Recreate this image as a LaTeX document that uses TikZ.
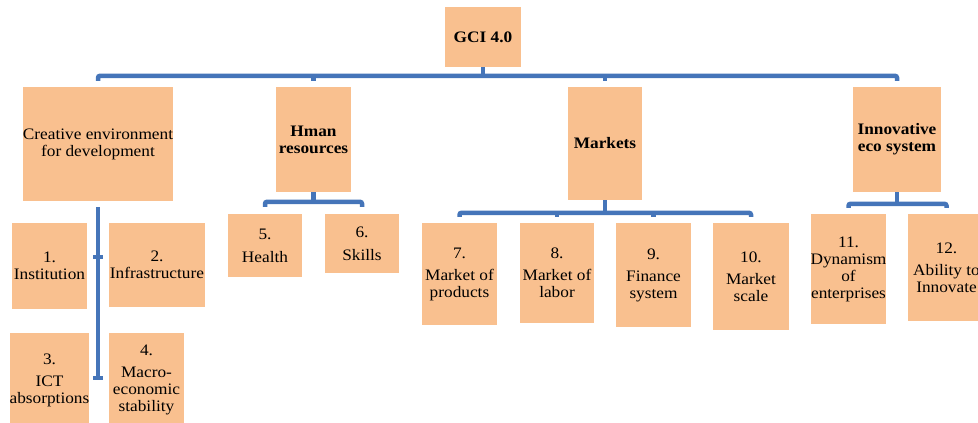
\documentclass[tikz,border=0pt]{standalone}
\usepackage{fontspec}
\setmainfont[FakeStretch=1.08]{Liberation Serif}
\usetikzlibrary{calc}
\definecolor{peach}{HTML}{F9C08F}
\definecolor{linkblue}{HTML}{4575B9}
\begin{document}
\begin{tikzpicture}[x=1pt,y=-1pt,
  box/.style={fill=peach, inner sep=0pt, align=center, font=\fontsize{16}{17}\selectfont},
  hbox/.style={box, font=\fontsize{16}{17}\selectfont\bfseries},
  conn/.style={draw=linkblue, line width=4.5pt, rounded corners=2pt}]
\useasboundingbox (0,0) rectangle (978,423);

% level 0
\node[hbox, minimum width=76pt, minimum height=60pt] (gci) at (483,37) {GCI 4.0};

% level 1
\node[box,  minimum width=148pt, minimum height=114pt] (creative) at (98,144) {Creative environment\\for development};
\node[hbox, minimum width=75pt,  minimum height=105pt] (hman) at (313.5,139.5) {Hman\\resources};
\node[hbox, minimum width=74pt,  minimum height=113pt] (markets) at (605,143.5) {Markets};
\node[hbox, minimum width=88pt,  minimum height=105pt] (innov) at (897,139.5) {Innovative\\eco system};

% level 2
\node[box, minimum width=75pt, minimum height=86pt]  (b1) at (49.5,266) {1.\\Institution};
\node[box, minimum width=96pt, minimum height=84pt]  (b2) at (157,265) {2.\\Infrastructure};
\node[box, minimum width=75pt, minimum height=94pt]  (b3) at (49.5,380) {3.\\[5pt]ICT\\absorptions};
\node[box, minimum width=75pt, minimum height=94pt]  (b4) at (146.5,380) {4.\\[5pt]Macro-\\economic\\stability};
\node[box, minimum width=74pt, minimum height=63pt]  (b5) at (265,245.5) {5.\\[6pt]Health};
\node[box, minimum width=74pt, minimum height=59pt]  (b6) at (362,243.5) {6.\\[6pt]Skills};
\node[box, minimum width=75pt, minimum height=102pt] (b7) at (459.5,274) {7.\\[5pt]Market of\\products};
\node[box, minimum width=74pt, minimum height=100pt] (b8) at (557,273) {8.\\[5pt]Market of\\labor};
\node[box, minimum width=75pt, minimum height=104pt] (b9) at (653.5,275) {9.\\[5pt]Finance\\system};
\node[box, minimum width=76pt, minimum height=107pt] (b10) at (751,276.5) {10.\\[5pt]Market\\scale};
\node[box, minimum width=75pt, minimum height=110pt] (b11) at (848.5,269) {11.\\Dynamism\\of\\enterprises};
\node[box, minimum width=77pt, minimum height=107pt] (b12) at (946.5,267.5) {12.\\[5pt]Ability to\\Innovate};

% top bracket
\draw[conn] (gci.south) -- ([yshift=-9pt]gci.south);
\draw[conn] ([yshift=6pt]creative.north) -- ([yshift=11pt]creative.north)
  -- ([yshift=11pt]innov.north) -- ([yshift=6pt]innov.north);
\draw[conn] ([yshift=6pt]hman.north) -- ([yshift=11pt]hman.north);
\draw[conn] ([yshift=6pt]markets.north) -- ([yshift=11pt]markets.north);

% creative environment vertical connector
\coordinate (ctop) at ([yshift=-6pt]creative.south);
\coordinate (cmid) at (98,257);
\coordinate (cend) at (98,378);
\draw[conn, rounded corners=0pt] (ctop) -- (cend);
\draw[conn, line width=3.5pt] ([xshift=-5pt]cmid) -- ([xshift=5pt]cmid);
\draw[conn, line width=3.5pt] ([xshift=-5pt]cend) -- ([xshift=5pt]cend);

% human resources bracket
\draw[conn] (hman.south) -- ([yshift=-10pt]hman.south);
\draw[conn] ([yshift=7pt]b5.north) -- ([yshift=12pt]b5.north)
  -- ([yshift=12pt]b6.north) -- ([yshift=7pt]b6.north);

% markets bracket
\draw[conn] (markets.south) -- ([yshift=-13pt]markets.south);
\draw[conn] ([yshift=6pt]b7.north) -- ([yshift=10pt]b7.north)
  -- ([yshift=10pt]b10.north) -- ([yshift=6pt]b10.north);
\draw[conn] ([yshift=6pt]b8.north) -- ([yshift=10pt]b8.north);
\draw[conn] ([yshift=6pt]b9.north) -- ([yshift=10pt]b9.north);

% innovative eco system bracket
\draw[conn] (innov.south) -- ([yshift=-12pt]innov.south);
\draw[conn] ([yshift=6pt]b11.north) -- ([yshift=10pt]b11.north)
  -- ([yshift=10pt]b12.north) -- ([yshift=6pt]b12.north);
\end{tikzpicture}
\end{document}
